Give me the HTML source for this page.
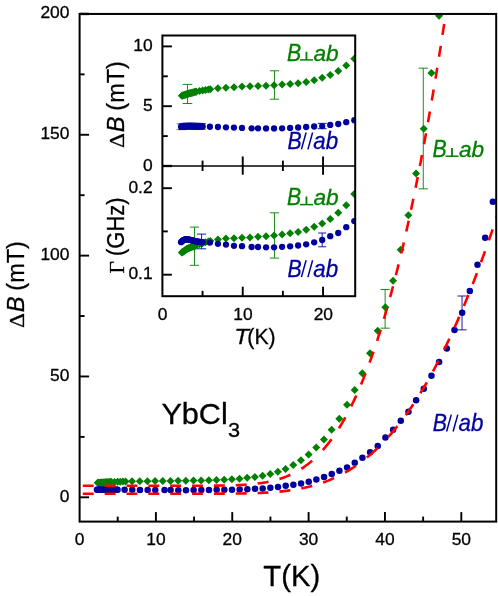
<!DOCTYPE html>
<html><head><meta charset="utf-8"><title>YbCl3 linewidth</title>
<style>html,body{margin:0;padding:0;background:#fff;}svg{display:block;will-change:transform;}text{stroke-width:0.3px;paint-order:stroke;}</style></head>
<body>
<svg width="498" height="596" viewBox="0 0 498 596" font-family="'Liberation Sans', sans-serif">
<rect width="498" height="596" fill="#fff"/>
<defs><clipPath id="cm"><rect x="79.6" y="13.95" width="416.6" height="507.65000000000003"/></clipPath><clipPath id="ct"><rect x="162.4" y="35.5" width="192.79999999999998" height="130.5"/></clipPath><clipPath id="cb"><rect x="162.4" y="166.0" width="192.79999999999998" height="130.2"/></clipPath></defs>
<g clip-path="url(#cm)">
<path d="M423.28 68.17V188.86M418.68 68.17H427.88M418.68 188.86H427.88" stroke="#008000" stroke-width="0.9" fill="none"/>
<path d="M385.13 289.47V328.16M380.53 289.47H389.73M380.53 328.16H389.73" stroke="#008000" stroke-width="0.9" fill="none"/>
<path d="M97.71 478.83L101.71 482.83L97.71 486.83L93.71 482.83Z" fill="#008000"/>
<path d="M98.48 478.78L102.48 482.78L98.48 486.78L94.48 482.78Z" fill="#008000"/>
<path d="M99.24 478.73L103.24 482.73L99.24 486.73L95.24 482.73Z" fill="#008000"/>
<path d="M100.00 478.68L104.00 482.68L100.00 486.68L96.00 482.68Z" fill="#008000"/>
<path d="M100.76 478.63L104.76 482.63L100.76 486.63L96.76 482.63Z" fill="#008000"/>
<path d="M101.53 478.58L105.53 482.58L101.53 486.58L97.53 482.58Z" fill="#008000"/>
<path d="M102.29 478.54L106.29 482.54L102.29 486.54L98.29 482.54Z" fill="#008000"/>
<path d="M103.05 478.49L107.05 482.49L103.05 486.49L99.05 482.49Z" fill="#008000"/>
<path d="M103.82 478.45L107.82 482.45L103.82 486.45L99.82 482.45Z" fill="#008000"/>
<path d="M104.58 478.41L108.58 482.41L104.58 486.41L100.58 482.41Z" fill="#008000"/>
<path d="M105.34 478.36L109.34 482.36L105.34 486.36L101.34 482.36Z" fill="#008000"/>
<path d="M106.11 478.32L110.11 482.32L106.11 486.32L102.11 482.32Z" fill="#008000"/>
<path d="M106.87 478.27L110.87 482.27L106.87 486.27L102.87 482.27Z" fill="#008000"/>
<path d="M107.63 478.23L111.63 482.23L107.63 486.23L103.63 482.23Z" fill="#008000"/>
<path d="M108.39 478.19L112.39 482.19L108.39 486.19L104.39 482.19Z" fill="#008000"/>
<path d="M109.16 478.14L113.16 482.14L109.16 486.14L105.16 482.14Z" fill="#008000"/>
<path d="M109.92 478.10L113.92 482.10L109.92 486.10L105.92 482.10Z" fill="#008000"/>
<path d="M110.68 478.07L114.68 482.07L110.68 486.07L106.68 482.07Z" fill="#008000"/>
<path d="M111.45 478.04L115.45 482.04L111.45 486.04L107.45 482.04Z" fill="#008000"/>
<path d="M114.50 477.91L118.50 481.91L114.50 485.91L110.50 481.91Z" fill="#008000"/>
<path d="M117.55 477.79L121.55 481.79L117.55 485.79L113.55 481.79Z" fill="#008000"/>
<path d="M120.22 477.70L124.22 481.70L120.22 485.70L116.22 481.70Z" fill="#008000"/>
<path d="M122.89 477.62L126.89 481.62L122.89 485.62L118.89 481.62Z" fill="#008000"/>
<path d="M125.56 477.54L129.56 481.54L125.56 485.54L121.56 481.54Z" fill="#008000"/>
<path d="M132.06 477.36L136.06 481.36L132.06 485.36L128.06 481.36Z" fill="#008000"/>
<path d="M139.74 477.25L143.74 481.25L139.74 485.25L135.74 481.25Z" fill="#008000"/>
<path d="M147.41 477.13L151.41 481.13L147.41 485.13L143.41 481.13Z" fill="#008000"/>
<path d="M155.09 477.01L159.09 481.01L155.09 485.01L151.09 481.01Z" fill="#008000"/>
<path d="M162.77 476.96L166.77 480.96L162.77 484.96L158.77 480.96Z" fill="#008000"/>
<path d="M170.44 476.92L174.44 480.92L170.44 484.92L166.44 480.92Z" fill="#008000"/>
<path d="M178.12 476.82L182.12 480.82L178.12 484.82L174.12 480.82Z" fill="#008000"/>
<path d="M185.79 476.72L189.79 480.72L185.79 484.72L181.79 480.72Z" fill="#008000"/>
<path d="M193.47 476.60L197.47 480.60L193.47 484.60L189.47 480.60Z" fill="#008000"/>
<path d="M201.14 476.48L205.14 480.48L201.14 484.48L197.14 480.48Z" fill="#008000"/>
<path d="M208.82 476.34L212.82 480.34L208.82 484.34L204.82 480.34Z" fill="#008000"/>
<path d="M216.50 476.09L220.50 480.09L216.50 484.09L212.50 480.09Z" fill="#008000"/>
<path d="M224.17 475.73L228.17 479.73L224.17 483.73L220.17 479.73Z" fill="#008000"/>
<path d="M231.85 475.22L235.85 479.22L231.85 483.22L227.85 479.22Z" fill="#008000"/>
<path d="M239.52 474.67L243.52 478.67L239.52 482.67L235.52 478.67Z" fill="#008000"/>
<path d="M247.20 473.87L251.20 477.87L247.20 481.87L243.20 477.87Z" fill="#008000"/>
<path d="M254.87 472.96L258.87 476.96L254.87 480.96L250.87 476.96Z" fill="#008000"/>
<path d="M262.55 471.81L266.55 475.81L262.55 479.81L258.55 475.81Z" fill="#008000"/>
<path d="M270.23 469.94L274.23 473.94L270.23 477.94L266.23 473.94Z" fill="#008000"/>
<path d="M277.90 467.82L281.90 471.82L277.90 475.82L273.90 471.82Z" fill="#008000"/>
<path d="M285.58 464.92L289.58 468.92L285.58 472.92L281.58 468.92Z" fill="#008000"/>
<path d="M293.25 461.05L297.25 465.05L293.25 469.05L289.25 465.05Z" fill="#008000"/>
<path d="M300.93 456.21L304.93 460.21L300.93 464.21L296.93 460.21Z" fill="#008000"/>
<path d="M308.61 450.41L312.61 454.41L308.61 458.41L304.61 454.41Z" fill="#008000"/>
<path d="M316.28 443.40L320.28 447.40L316.28 451.40L312.28 447.40Z" fill="#008000"/>
<path d="M323.96 435.41L327.96 439.41L323.96 443.41L319.96 439.41Z" fill="#008000"/>
<path d="M331.63 425.74L335.63 429.74L331.63 433.74L327.63 429.74Z" fill="#008000"/>
<path d="M339.31 414.74L343.31 418.74L339.31 422.74L335.31 418.74Z" fill="#008000"/>
<path d="M346.98 400.83L350.98 404.83L346.98 408.83L342.98 404.83Z" fill="#008000"/>
<path d="M354.66 386.08L358.66 390.08L354.66 394.08L350.66 390.08Z" fill="#008000"/>
<path d="M362.34 369.15L366.34 373.15L362.34 377.15L358.34 373.15Z" fill="#008000"/>
<path d="M370.01 349.32L374.01 353.32L370.01 357.32L366.01 353.32Z" fill="#008000"/>
<path d="M377.69 326.82L381.69 330.82L377.69 334.82L373.69 330.82Z" fill="#008000"/>
<path d="M385.36 303.36L389.36 307.36L385.36 311.36L381.36 307.36Z" fill="#008000"/>
<path d="M393.04 276.76L397.04 280.76L393.04 284.76L389.04 280.76Z" fill="#008000"/>
<path d="M400.71 245.80L404.71 249.80L400.71 253.80L396.71 249.80Z" fill="#008000"/>
<path d="M408.39 211.22L412.39 215.22L408.39 219.22L404.39 215.22Z" fill="#008000"/>
<path d="M416.07 169.62L420.07 173.62L416.07 177.62L412.07 173.62Z" fill="#008000"/>
<path d="M423.74 124.64L427.74 128.64L423.74 132.64L419.74 128.64Z" fill="#008000"/>
<path d="M431.42 69.01L435.42 73.01L431.42 77.01L427.42 73.01Z" fill="#008000"/>
<path d="M439.09 11.69L443.09 15.69L439.09 19.69L435.09 15.69Z" fill="#008000"/>
<path d="M462.04 296.00V329.86M457.44 296.00H466.64M457.44 329.86H466.64" stroke="#0000A0" stroke-width="0.9" fill="none"/>
<circle cx="96.95" cy="489.79" r="3.25" fill="#0000A0"/>
<circle cx="97.71" cy="489.77" r="3.25" fill="#0000A0"/>
<circle cx="98.48" cy="489.75" r="3.25" fill="#0000A0"/>
<circle cx="99.24" cy="489.73" r="3.25" fill="#0000A0"/>
<circle cx="100.00" cy="489.71" r="3.25" fill="#0000A0"/>
<circle cx="100.76" cy="489.69" r="3.25" fill="#0000A0"/>
<circle cx="101.53" cy="489.67" r="3.25" fill="#0000A0"/>
<circle cx="102.29" cy="489.65" r="3.25" fill="#0000A0"/>
<circle cx="103.05" cy="489.65" r="3.25" fill="#0000A0"/>
<circle cx="103.82" cy="489.65" r="3.25" fill="#0000A0"/>
<circle cx="104.58" cy="489.66" r="3.25" fill="#0000A0"/>
<circle cx="105.34" cy="489.66" r="3.25" fill="#0000A0"/>
<circle cx="106.11" cy="489.66" r="3.25" fill="#0000A0"/>
<circle cx="106.87" cy="489.67" r="3.25" fill="#0000A0"/>
<circle cx="107.63" cy="489.67" r="3.25" fill="#0000A0"/>
<circle cx="108.39" cy="489.68" r="3.25" fill="#0000A0"/>
<circle cx="109.16" cy="489.68" r="3.25" fill="#0000A0"/>
<circle cx="109.92" cy="489.68" r="3.25" fill="#0000A0"/>
<circle cx="110.68" cy="489.69" r="3.25" fill="#0000A0"/>
<circle cx="111.45" cy="489.69" r="3.25" fill="#0000A0"/>
<circle cx="112.21" cy="489.69" r="3.25" fill="#0000A0"/>
<circle cx="112.97" cy="489.70" r="3.25" fill="#0000A0"/>
<circle cx="113.74" cy="489.70" r="3.25" fill="#0000A0"/>
<circle cx="114.50" cy="489.70" r="3.25" fill="#0000A0"/>
<circle cx="115.26" cy="489.71" r="3.25" fill="#0000A0"/>
<circle cx="116.02" cy="489.71" r="3.25" fill="#0000A0"/>
<circle cx="116.79" cy="489.72" r="3.25" fill="#0000A0"/>
<circle cx="117.55" cy="489.72" r="3.25" fill="#0000A0"/>
<circle cx="124.59" cy="489.79" r="3.25" fill="#0000A0"/>
<circle cx="132.26" cy="489.84" r="3.25" fill="#0000A0"/>
<circle cx="139.94" cy="489.91" r="3.25" fill="#0000A0"/>
<circle cx="147.61" cy="489.96" r="3.25" fill="#0000A0"/>
<circle cx="155.28" cy="490.03" r="3.25" fill="#0000A0"/>
<circle cx="164.49" cy="490.11" r="3.25" fill="#0000A0"/>
<circle cx="170.62" cy="490.11" r="3.25" fill="#0000A0"/>
<circle cx="178.30" cy="490.13" r="3.25" fill="#0000A0"/>
<circle cx="185.97" cy="490.13" r="3.25" fill="#0000A0"/>
<circle cx="193.64" cy="490.11" r="3.25" fill="#0000A0"/>
<circle cx="201.31" cy="490.03" r="3.25" fill="#0000A0"/>
<circle cx="208.98" cy="489.94" r="3.25" fill="#0000A0"/>
<circle cx="216.66" cy="489.84" r="3.25" fill="#0000A0"/>
<circle cx="224.33" cy="489.74" r="3.25" fill="#0000A0"/>
<circle cx="232.00" cy="489.65" r="3.25" fill="#0000A0"/>
<circle cx="239.67" cy="489.43" r="3.25" fill="#0000A0"/>
<circle cx="247.34" cy="489.24" r="3.25" fill="#0000A0"/>
<circle cx="255.02" cy="488.87" r="3.25" fill="#0000A0"/>
<circle cx="262.69" cy="488.49" r="3.25" fill="#0000A0"/>
<circle cx="270.36" cy="487.78" r="3.25" fill="#0000A0"/>
<circle cx="278.03" cy="486.94" r="3.25" fill="#0000A0"/>
<circle cx="285.70" cy="485.85" r="3.25" fill="#0000A0"/>
<circle cx="293.38" cy="484.76" r="3.25" fill="#0000A0"/>
<circle cx="301.05" cy="483.43" r="3.25" fill="#0000A0"/>
<circle cx="308.72" cy="481.86" r="3.25" fill="#0000A0"/>
<circle cx="316.39" cy="479.56" r="3.25" fill="#0000A0"/>
<circle cx="324.06" cy="477.02" r="3.25" fill="#0000A0"/>
<circle cx="331.74" cy="474.12" r="3.25" fill="#0000A0"/>
<circle cx="339.41" cy="470.85" r="3.25" fill="#0000A0"/>
<circle cx="347.08" cy="467.47" r="3.25" fill="#0000A0"/>
<circle cx="354.75" cy="462.87" r="3.25" fill="#0000A0"/>
<circle cx="362.42" cy="457.79" r="3.25" fill="#0000A0"/>
<circle cx="370.10" cy="452.23" r="3.25" fill="#0000A0"/>
<circle cx="377.77" cy="445.94" r="3.25" fill="#0000A0"/>
<circle cx="385.44" cy="437.48" r="3.25" fill="#0000A0"/>
<circle cx="393.11" cy="429.74" r="3.25" fill="#0000A0"/>
<circle cx="400.78" cy="420.79" r="3.25" fill="#0000A0"/>
<circle cx="408.46" cy="411.84" r="3.25" fill="#0000A0"/>
<circle cx="416.13" cy="400.23" r="3.25" fill="#0000A0"/>
<circle cx="423.80" cy="388.63" r="3.25" fill="#0000A0"/>
<circle cx="431.47" cy="375.81" r="3.25" fill="#0000A0"/>
<circle cx="439.14" cy="362.02" r="3.25" fill="#0000A0"/>
<circle cx="446.82" cy="348.48" r="3.25" fill="#0000A0"/>
<circle cx="454.49" cy="330.10" r="3.25" fill="#0000A0"/>
<circle cx="462.16" cy="312.68" r="3.25" fill="#0000A0"/>
<circle cx="469.83" cy="290.92" r="3.25" fill="#0000A0"/>
<circle cx="477.50" cy="264.80" r="3.25" fill="#0000A0"/>
<circle cx="485.17" cy="237.71" r="3.25" fill="#0000A0"/>
<circle cx="492.85" cy="201.68" r="3.25" fill="#0000A0"/>
<path d="M82.80 485.70L84.98 485.70L87.16 485.70L89.34 485.70L91.52 485.70L93.70 485.70M104.65 485.70L106.83 485.70L109.01 485.70L111.19 485.70L113.37 485.70L115.55 485.70M126.50 485.70L128.68 485.70L130.86 485.70L133.04 485.70L135.22 485.70L137.40 485.70M148.35 485.70L150.53 485.70L152.71 485.70L154.89 485.70L157.07 485.70L159.25 485.70M170.20 485.70L172.38 485.70L174.56 485.70L176.74 485.70L178.92 485.70L181.10 485.70M192.05 485.70L194.23 485.70L196.41 485.70L198.59 485.69L200.77 485.69L202.95 485.68M213.90 485.63L216.08 485.62L218.26 485.60L220.44 485.57L222.62 485.54L224.80 485.50M235.75 485.21L237.93 485.12L240.11 485.02L242.29 484.91L244.47 484.78L246.65 484.63M257.60 483.57L259.78 483.28L261.96 482.96L264.14 482.60L266.32 482.22L268.50 481.79M279.45 478.98L281.63 478.26L283.81 477.49L285.99 476.66L288.17 475.76L290.35 474.80M301.30 468.81L303.48 467.36L305.66 465.82L307.84 464.19L310.02 462.46L312.20 460.62M322.84 450.06L324.73 447.88L326.55 445.70L328.29 443.52L329.97 441.34L331.59 439.16M338.98 428.21L340.33 426.03L341.64 423.85L342.92 421.67L344.17 419.49L345.38 417.31M351.12 406.36L352.19 404.18L353.24 402.00L354.28 399.82L355.29 397.64L356.29 395.46M361.06 384.51L361.96 382.33L362.86 380.15L363.74 377.97L364.60 375.79L365.46 373.61M369.59 362.66L370.38 360.48L371.16 358.30L371.94 356.12L372.70 353.94L373.45 351.76M377.13 340.81L377.83 338.63L378.53 336.45L379.23 334.27L379.92 332.09L380.60 329.91M383.92 318.96L384.56 316.78L385.20 314.60L385.83 312.42L386.46 310.24L387.08 308.06M390.13 297.11L390.73 294.93L391.32 292.75L391.90 290.57L392.48 288.39L393.05 286.21M395.88 275.26L396.43 273.08L396.98 270.90L397.53 268.72L398.07 266.54L398.60 264.36M401.25 253.41L401.76 251.23L402.28 249.05L402.79 246.87L403.29 244.69L403.80 242.51M406.29 231.56L406.77 229.38L407.26 227.20L407.74 225.02L408.22 222.84L408.70 220.66M411.05 209.71L411.51 207.53L411.97 205.35L412.43 203.17L412.88 200.99L413.34 198.81M415.58 187.86L416.02 185.68L416.45 183.50L416.89 181.32L417.32 179.14L417.75 176.96M419.89 166.01L420.31 163.83L420.73 161.65L421.15 159.47L421.56 157.29L421.97 155.11M424.02 144.16L424.42 141.98L424.82 139.80L425.22 137.62L425.62 135.44L426.02 133.26M427.98 122.31L428.37 120.13L428.76 117.95L429.14 115.77L429.52 113.59L429.91 111.41M431.80 100.46L432.17 98.28L432.55 96.10L432.92 93.92L433.29 91.74L433.65 89.56M435.48 78.61L435.84 76.43L436.20 74.25L436.56 72.07L436.92 69.89L437.27 67.71M439.04 56.76L439.39 54.58L439.74 52.40L440.09 50.22L440.43 48.04L440.78 45.86M442.49 34.91L442.83 32.73L443.17 30.55L443.50 28.37L443.84 26.19L444.17 24.01M445.84 13.06L446.17 10.88L446.49 8.70L446.82 6.52L447.15 4.34L447.47 2.16M449.09 -8.79L449.41 -10.97L449.73 -13.15L450.05 -15.33L450.36 -17.51L450.68 -19.69M452.26 -30.64L452.57 -32.82L452.88 -35.00L453.19 -37.18L453.50 -39.36L453.81 -41.54M455.34 -52.49L455.65 -54.67L455.95 -56.85L456.25 -59.03L456.55 -61.21L456.85 -63.39M458.35 -74.34L458.65 -76.52L458.94 -78.70L459.24 -80.88L459.53 -83.06L459.83 -85.24M461.29 -96.19L461.58 -98.37L461.87 -100.55L462.16 -102.73L462.44 -104.91L462.73 -107.09M464.16 -118.04L464.45 -120.22L464.73 -122.40L465.01 -124.58L465.29 -126.76L465.57 -128.94M466.98 -139.89L467.25 -142.07L467.53 -144.25L467.81 -146.43L468.08 -148.61L468.36 -150.79M469.73 -161.74L470.00 -163.92L470.27 -166.10L470.54 -168.28L470.81 -170.46L471.08 -172.64M472.43 -183.59L472.70 -185.77L472.96 -187.95L473.23 -190.13L473.49 -192.31L473.76 -194.49M475.08 -205.44L475.34 -207.62L475.60 -209.80L475.86 -211.98L476.12 -214.16L476.38 -216.34M477.68 -227.29L477.93 -229.47L478.19 -231.65L478.44 -233.83L478.70 -236.01L478.95 -238.19M480.23 -249.14L480.48 -251.32L480.73 -253.50L480.98 -255.68L481.23 -257.86L481.48 -260.04M482.74 -270.99L482.98 -273.17L483.23 -275.35L483.48 -277.53L483.72 -279.71L483.97 -281.89M485.20 -292.84L485.45 -295.02L485.69 -297.20L485.93 -299.38L486.17 -301.56L486.42 -303.74M487.63 -314.69L487.87 -316.87L488.11 -319.05L488.35 -321.23L488.59 -323.41L488.82 -325.59M490.02 -336.54L490.25 -338.72L490.49 -340.90L490.72 -343.08L490.96 -345.26L491.19 -347.44M492.37 -358.39L492.60 -360.57L492.83 -362.75L493.07 -364.93L493.30 -367.11L493.53 -369.29M494.69 -380.24L494.92 -382.42L495.15 -384.60L495.37 -386.78L495.60 -388.96L495.83 -391.14M496.97 -402.09L497.20 -404.27L497.42 -406.45L497.65 -408.63L497.87 -410.81L498.10 -412.99M499.22 -423.94L499.45 -426.12L499.67 -428.30L499.89 -430.48L500.11 -432.66L500.34 -434.84M501.45 -445.79L501.67 -447.97L501.89 -450.15L502.10 -452.33L502.32 -454.51L502.54 -456.69M503.64 -467.64L503.86 -469.82L504.07 -472.00L504.29 -474.18L504.51 -476.36L504.72 -478.54M505.80 -489.49L505.98 -491.27L506.15 -493.06L506.33 -494.85L506.50 -496.64L506.68 -498.42" fill="none" stroke="#FF0000" stroke-width="2.6"/>
<path d="M82.80 493.71L84.98 493.71L87.16 493.71L89.34 493.71L91.52 493.71L93.70 493.71M104.65 493.71L106.83 493.71L109.01 493.71L111.19 493.71L113.37 493.71L115.55 493.71M126.50 493.71L128.68 493.71L130.86 493.71L133.04 493.71L135.22 493.71L137.40 493.71M148.35 493.71L150.53 493.71L152.71 493.71L154.89 493.71L157.07 493.71L159.25 493.71M170.20 493.71L172.38 493.71L174.56 493.71L176.74 493.71L178.92 493.71L181.10 493.71M192.05 493.71L194.23 493.71L196.41 493.71L198.59 493.71L200.77 493.70L202.95 493.70M213.90 493.69L216.08 493.68L218.26 493.68L220.44 493.67L222.62 493.66L224.80 493.65M235.75 493.56L237.93 493.53L240.11 493.50L242.29 493.46L244.47 493.42L246.65 493.37M257.60 493.04L259.78 492.95L261.96 492.85L264.14 492.74L266.32 492.62L268.50 492.49M279.45 491.61L281.63 491.39L283.81 491.15L285.99 490.89L288.17 490.61L290.35 490.31M301.30 488.44L303.48 487.98L305.66 487.51L307.84 487.00L310.02 486.45L312.20 485.88M323.15 482.48L325.33 481.69L327.51 480.86L329.69 479.98L331.87 479.07L334.05 478.11M345.00 472.58L347.18 471.33L349.36 470.03L351.54 468.68L353.72 467.27L355.90 465.81M366.85 457.60L369.03 455.78L371.21 453.91L373.39 451.96L375.57 449.96L377.75 447.89M388.24 436.98L390.17 434.80L392.05 432.62L393.89 430.44L395.69 428.26L397.44 426.08M405.74 415.13L407.31 412.95L408.84 410.77L410.34 408.59L411.83 406.41L413.28 404.23M420.28 393.28L421.61 391.10L422.93 388.92L424.23 386.74L425.51 384.56L426.78 382.38M432.90 371.43L434.08 369.25L435.25 367.07L436.40 364.89L437.54 362.71L438.67 360.53M444.17 349.58L445.24 347.40L446.29 345.22L447.34 343.04L448.38 340.86L449.40 338.68M454.43 327.73L455.41 325.55L456.38 323.37L457.34 321.19L458.29 319.01L459.24 316.83M463.89 305.88L464.80 303.70L465.70 301.52L466.60 299.34L467.49 297.16L468.37 294.98M472.72 284.03L473.57 281.85L474.41 279.67L475.25 277.49L476.09 275.31L476.92 273.13M481.01 262.18L481.82 260.00L482.61 257.82L483.41 255.64L484.20 253.46L484.98 251.28M488.86 240.33L489.62 238.15L490.38 235.97L491.13 233.79L491.88 231.61L492.63 229.43M496.33 218.48L497.06 216.30L497.78 214.12L498.50 211.94L499.21 209.76L499.93 207.58M503.46 196.63L504.11 194.60L504.76 192.57L505.40 190.54L506.04 188.51L506.68 186.48" fill="none" stroke="#FF0000" stroke-width="2.6"/>
</g>
<rect x="79.6" y="13.95" width="416.60" height="507.65" fill="none" stroke="#000" stroke-width="2"/>
<line x1="117.72" y1="521.60" x2="117.72" y2="516.60" stroke="#000" stroke-width="1.9"/>
<line x1="155.90" y1="521.60" x2="155.90" y2="512.10" stroke="#000" stroke-width="1.9"/>
<line x1="194.07" y1="521.60" x2="194.07" y2="516.60" stroke="#000" stroke-width="1.9"/>
<line x1="232.25" y1="521.60" x2="232.25" y2="512.10" stroke="#000" stroke-width="1.9"/>
<line x1="270.43" y1="521.60" x2="270.43" y2="516.60" stroke="#000" stroke-width="1.9"/>
<line x1="308.60" y1="521.60" x2="308.60" y2="512.10" stroke="#000" stroke-width="1.9"/>
<line x1="346.77" y1="521.60" x2="346.77" y2="516.60" stroke="#000" stroke-width="1.9"/>
<line x1="384.95" y1="521.60" x2="384.95" y2="512.10" stroke="#000" stroke-width="1.9"/>
<line x1="423.12" y1="521.60" x2="423.12" y2="516.60" stroke="#000" stroke-width="1.9"/>
<line x1="461.30" y1="521.60" x2="461.30" y2="512.10" stroke="#000" stroke-width="1.9"/>
<text x="79.55" y="545.00" font-size="17.4" text-anchor="middle" fill="#000" stroke="#000">0</text>
<text x="155.90" y="545.00" font-size="17.4" text-anchor="middle" fill="#000" stroke="#000">10</text>
<text x="232.25" y="545.00" font-size="17.4" text-anchor="middle" fill="#000" stroke="#000">20</text>
<text x="308.60" y="545.00" font-size="17.4" text-anchor="middle" fill="#000" stroke="#000">30</text>
<text x="384.95" y="545.00" font-size="17.4" text-anchor="middle" fill="#000" stroke="#000">40</text>
<text x="461.30" y="545.00" font-size="17.4" text-anchor="middle" fill="#000" stroke="#000">50</text>
<line x1="79.60" y1="497.30" x2="89.10" y2="497.30" stroke="#000" stroke-width="1.9"/>
<line x1="79.60" y1="436.88" x2="84.60" y2="436.88" stroke="#000" stroke-width="1.9"/>
<line x1="79.60" y1="376.46" x2="89.10" y2="376.46" stroke="#000" stroke-width="1.9"/>
<line x1="79.60" y1="316.04" x2="84.60" y2="316.04" stroke="#000" stroke-width="1.9"/>
<line x1="79.60" y1="255.62" x2="89.10" y2="255.62" stroke="#000" stroke-width="1.9"/>
<line x1="79.60" y1="195.20" x2="84.60" y2="195.20" stroke="#000" stroke-width="1.9"/>
<line x1="79.60" y1="134.78" x2="89.10" y2="134.78" stroke="#000" stroke-width="1.9"/>
<line x1="79.60" y1="74.36" x2="84.60" y2="74.36" stroke="#000" stroke-width="1.9"/>
<line x1="79.60" y1="13.94" x2="89.10" y2="13.94" stroke="#000" stroke-width="2.4"/>
<text x="69.40" y="501.80" font-size="17.4" text-anchor="end" fill="#000" stroke="#000">0</text>
<text x="69.40" y="380.96" font-size="17.4" text-anchor="end" fill="#000" stroke="#000">50</text>
<text x="69.40" y="260.12" font-size="17.4" text-anchor="end" fill="#000" stroke="#000">100</text>
<text x="69.40" y="139.28" font-size="17.4" text-anchor="end" fill="#000" stroke="#000">150</text>
<text x="69.40" y="18.44" font-size="17.4" text-anchor="end" fill="#000" stroke="#000">200</text>
<text transform="translate(263.33 586.30) scale(1.0226 1)" font-size="28.6" fill="#000" stroke="#000" >T(K)</text>
<g transform="translate(23.9 327.1) rotate(-90)"><text transform="translate(-0.84 0.00) scale(1.1234 1)" font-size="20.6" fill="#000" stroke="#000" font-family="'Liberation Serif', serif">Δ</text><text transform="translate(14.87 0.00) scale(0.9695 1)" font-size="24.5" fill="#000" stroke="#000" font-style="italic">B</text><text transform="translate(36.47 0.00) scale(0.9549 1)" font-size="24.5" fill="#000" stroke="#000" >(mT)</text></g>
<text transform="translate(161.41 424.40) scale(1.0556 1)" font-size="29" fill="#000" stroke="#000" >YbCl</text>
<text transform="translate(227.89 436.80) scale(1.0526 1)" font-size="20.6" fill="#000" stroke="#000" >3</text>
<g transform="translate(433.2 156.8)"><text transform="translate(-0.72 0.00) scale(0.9240 1)" font-size="23" fill="#008000" stroke="#008000" font-style="italic">B</text><path d="M12.3 -0.6H25.3" stroke="#008000" stroke-width="1.5" fill="none"/><path d="M18.75 -0.6V-8.7" stroke="#008000" stroke-width="1.8" fill="none"/><text transform="translate(25.68 0.00) scale(0.9874 1)" font-size="23" fill="#008000" stroke="#008000" font-style="italic">ab</text></g>
<g transform="translate(433.4 431.0)"><text transform="translate(-0.72 0.00) scale(0.9240 1)" font-size="23" fill="#0000A0" stroke="#0000A0" font-style="italic">B</text><path d="M13.2 0.5L17.9 -16.4M19.7 0.5L24.4 -16.4" stroke="#0000A0" stroke-width="1.5" fill="none"/><text transform="translate(25.09 0.00) scale(0.9709 1)" font-size="23" fill="#0000A0" stroke="#0000A0" font-style="italic">ab</text></g>
<rect x="162.4" y="35.5" width="192.80" height="260.70" fill="#fff"/>
<g clip-path="url(#ct)">
<path d="M187.46 84.40V103.50M182.66 84.40H192.26M182.66 103.50H192.26" stroke="#008000" stroke-width="0.9" fill="none"/>
<path d="M274.48 70.80V99.20M269.88 70.80H279.08M269.88 99.20H279.08" stroke="#008000" stroke-width="0.9" fill="none"/>
<path d="M181.85 91.65L185.85 95.65L181.85 99.65L177.85 95.65Z" fill="#008000"/>
<path d="M182.65 91.41L186.65 95.41L182.65 99.41L178.65 95.41Z" fill="#008000"/>
<path d="M183.45 91.17L187.45 95.17L183.45 99.17L179.45 95.17Z" fill="#008000"/>
<path d="M184.25 90.93L188.25 94.93L184.25 98.93L180.25 94.93Z" fill="#008000"/>
<path d="M185.06 90.68L189.06 94.68L185.06 98.68L181.06 94.68Z" fill="#008000"/>
<path d="M185.86 90.44L189.86 94.44L185.86 98.44L181.86 94.44Z" fill="#008000"/>
<path d="M186.66 90.20L190.66 94.20L186.66 98.20L182.66 94.20Z" fill="#008000"/>
<path d="M187.46 89.98L191.46 93.98L187.46 97.98L183.46 93.98Z" fill="#008000"/>
<path d="M188.26 89.77L192.26 93.77L188.26 97.77L184.26 93.77Z" fill="#008000"/>
<path d="M189.07 89.55L193.07 93.55L189.07 97.55L185.07 93.55Z" fill="#008000"/>
<path d="M189.87 89.33L193.87 93.33L189.87 97.33L185.87 93.33Z" fill="#008000"/>
<path d="M190.67 89.12L194.67 93.12L190.67 97.12L186.67 93.12Z" fill="#008000"/>
<path d="M191.47 88.90L195.47 92.90L191.47 96.90L187.47 92.90Z" fill="#008000"/>
<path d="M192.27 88.68L196.27 92.68L192.27 96.68L188.27 92.68Z" fill="#008000"/>
<path d="M193.08 88.47L197.08 92.47L193.08 96.47L189.08 92.47Z" fill="#008000"/>
<path d="M193.88 88.25L197.88 92.25L193.88 96.25L189.88 92.25Z" fill="#008000"/>
<path d="M194.68 88.03L198.68 92.03L194.68 96.03L190.68 92.03Z" fill="#008000"/>
<path d="M195.48 87.87L199.48 91.87L195.48 95.87L191.48 91.87Z" fill="#008000"/>
<path d="M196.28 87.72L200.28 91.72L196.28 95.72L192.28 91.72Z" fill="#008000"/>
<path d="M199.49 87.09L203.49 91.09L199.49 95.09L195.49 91.09Z" fill="#008000"/>
<path d="M202.70 86.46L206.70 90.46L202.70 94.46L198.70 90.46Z" fill="#008000"/>
<path d="M205.51 86.04L209.51 90.04L205.51 94.04L201.51 90.04Z" fill="#008000"/>
<path d="M208.31 85.62L212.31 89.62L208.31 93.62L204.31 89.62Z" fill="#008000"/>
<path d="M210.32 85.25L214.32 89.25L210.32 93.25L206.32 89.25Z" fill="#008000"/>
<path d="M217.94 84.36L221.94 88.36L217.94 92.36L213.94 88.36Z" fill="#008000"/>
<path d="M225.96 83.81L229.96 87.81L225.96 91.81L221.96 87.81Z" fill="#008000"/>
<path d="M233.98 83.21L237.98 87.21L233.98 91.21L229.98 87.21Z" fill="#008000"/>
<path d="M242.00 82.60L246.00 86.60L242.00 90.60L238.00 86.60Z" fill="#008000"/>
<path d="M250.02 82.36L254.02 86.36L250.02 90.36L246.02 86.36Z" fill="#008000"/>
<path d="M258.04 82.12L262.04 86.12L258.04 90.12L254.04 86.12Z" fill="#008000"/>
<path d="M266.06 81.64L270.06 85.64L266.06 89.64L262.06 85.64Z" fill="#008000"/>
<path d="M274.08 81.16L278.08 85.16L274.08 89.16L270.08 85.16Z" fill="#008000"/>
<path d="M282.10 80.55L286.10 84.55L282.10 88.55L278.10 84.55Z" fill="#008000"/>
<path d="M290.12 79.95L294.12 83.95L290.12 87.95L286.12 83.95Z" fill="#008000"/>
<path d="M298.14 79.23L302.14 83.23L298.14 87.23L294.14 83.23Z" fill="#008000"/>
<path d="M306.16 78.02L310.16 82.02L306.16 86.02L302.16 82.02Z" fill="#008000"/>
<path d="M314.18 76.21L318.18 80.21L314.18 84.21L310.18 80.21Z" fill="#008000"/>
<path d="M322.20 73.68L326.20 77.68L322.20 81.68L318.20 77.68Z" fill="#008000"/>
<path d="M330.22 70.91L334.22 74.91L330.22 78.91L326.22 74.91Z" fill="#008000"/>
<path d="M338.24 66.93L342.24 70.93L338.24 74.93L334.24 70.93Z" fill="#008000"/>
<path d="M346.26 61.50L350.26 65.50L346.26 69.50L342.26 65.50Z" fill="#008000"/>
<path d="M354.28 54.87L358.28 58.87L354.28 62.87L350.28 58.87Z" fill="#008000"/>
<path d="M181.05 123.87V129.66M176.65 123.87H185.45M176.65 129.66H185.45" stroke="#0000A0" stroke-width="0.55" fill="none"/>
<path d="M182.65 123.66V129.45M178.25 123.66H187.05M178.25 129.45H187.05" stroke="#0000A0" stroke-width="0.55" fill="none"/>
<path d="M184.25 123.46V129.24M179.85 123.46H188.65M179.85 129.24H188.65" stroke="#0000A0" stroke-width="0.55" fill="none"/>
<path d="M185.86 123.25V129.04M181.46 123.25H190.26M181.46 129.04H190.26" stroke="#0000A0" stroke-width="0.55" fill="none"/>
<path d="M187.46 123.16V128.95M183.06 123.16H191.86M183.06 128.95H191.86" stroke="#0000A0" stroke-width="0.55" fill="none"/>
<path d="M189.07 123.20V128.99M184.67 123.20H193.47M184.67 128.99H193.47" stroke="#0000A0" stroke-width="0.55" fill="none"/>
<path d="M190.67 123.24V129.03M186.27 123.24H195.07M186.27 129.03H195.07" stroke="#0000A0" stroke-width="0.55" fill="none"/>
<path d="M192.27 123.27V129.06M187.87 123.27H196.67M187.87 129.06H196.67" stroke="#0000A0" stroke-width="0.55" fill="none"/>
<path d="M193.88 123.31V129.10M189.48 123.31H198.28M189.48 129.10H198.28" stroke="#0000A0" stroke-width="0.55" fill="none"/>
<path d="M195.48 123.34V129.13M191.08 123.34H199.88M191.08 129.13H199.88" stroke="#0000A0" stroke-width="0.55" fill="none"/>
<path d="M197.09 123.38V129.17M192.69 123.38H201.49M192.69 129.17H201.49" stroke="#0000A0" stroke-width="0.55" fill="none"/>
<path d="M198.69 123.42V129.21M194.29 123.42H203.09M194.29 129.21H203.09" stroke="#0000A0" stroke-width="0.55" fill="none"/>
<path d="M200.29 123.45V129.24M195.89 123.45H204.69M195.89 129.24H204.69" stroke="#0000A0" stroke-width="0.55" fill="none"/>
<path d="M201.90 123.49V129.28M197.50 123.49H206.30M197.50 129.28H206.30" stroke="#0000A0" stroke-width="0.55" fill="none"/>
<circle cx="181.05" cy="126.76" r="3.15" fill="#0000A0"/>
<circle cx="181.85" cy="126.66" r="3.15" fill="#0000A0"/>
<circle cx="182.65" cy="126.56" r="3.15" fill="#0000A0"/>
<circle cx="183.45" cy="126.45" r="3.15" fill="#0000A0"/>
<circle cx="184.25" cy="126.35" r="3.15" fill="#0000A0"/>
<circle cx="185.06" cy="126.25" r="3.15" fill="#0000A0"/>
<circle cx="185.86" cy="126.14" r="3.15" fill="#0000A0"/>
<circle cx="186.66" cy="126.04" r="3.15" fill="#0000A0"/>
<circle cx="187.46" cy="126.06" r="3.15" fill="#0000A0"/>
<circle cx="188.26" cy="126.08" r="3.15" fill="#0000A0"/>
<circle cx="189.07" cy="126.09" r="3.15" fill="#0000A0"/>
<circle cx="189.87" cy="126.11" r="3.15" fill="#0000A0"/>
<circle cx="190.67" cy="126.13" r="3.15" fill="#0000A0"/>
<circle cx="191.47" cy="126.15" r="3.15" fill="#0000A0"/>
<circle cx="192.27" cy="126.17" r="3.15" fill="#0000A0"/>
<circle cx="193.08" cy="126.18" r="3.15" fill="#0000A0"/>
<circle cx="193.88" cy="126.20" r="3.15" fill="#0000A0"/>
<circle cx="194.68" cy="126.22" r="3.15" fill="#0000A0"/>
<circle cx="195.48" cy="126.24" r="3.15" fill="#0000A0"/>
<circle cx="196.28" cy="126.26" r="3.15" fill="#0000A0"/>
<circle cx="197.09" cy="126.28" r="3.15" fill="#0000A0"/>
<circle cx="197.89" cy="126.29" r="3.15" fill="#0000A0"/>
<circle cx="198.69" cy="126.31" r="3.15" fill="#0000A0"/>
<circle cx="199.49" cy="126.33" r="3.15" fill="#0000A0"/>
<circle cx="200.29" cy="126.35" r="3.15" fill="#0000A0"/>
<circle cx="201.10" cy="126.37" r="3.15" fill="#0000A0"/>
<circle cx="201.90" cy="126.38" r="3.15" fill="#0000A0"/>
<circle cx="202.70" cy="126.40" r="3.15" fill="#0000A0"/>
<circle cx="209.92" cy="126.76" r="3.15" fill="#0000A0"/>
<circle cx="217.94" cy="127.00" r="3.15" fill="#0000A0"/>
<circle cx="225.96" cy="127.37" r="3.15" fill="#0000A0"/>
<circle cx="233.98" cy="127.61" r="3.15" fill="#0000A0"/>
<circle cx="242.00" cy="127.97" r="3.15" fill="#0000A0"/>
<circle cx="251.62" cy="128.33" r="3.15" fill="#0000A0"/>
<circle cx="258.04" cy="128.33" r="3.15" fill="#0000A0"/>
<circle cx="266.06" cy="128.45" r="3.15" fill="#0000A0"/>
<circle cx="274.08" cy="128.45" r="3.15" fill="#0000A0"/>
<circle cx="282.10" cy="128.33" r="3.15" fill="#0000A0"/>
<circle cx="290.12" cy="127.97" r="3.15" fill="#0000A0"/>
<circle cx="298.14" cy="127.49" r="3.15" fill="#0000A0"/>
<circle cx="306.16" cy="127.00" r="3.15" fill="#0000A0"/>
<circle cx="314.18" cy="126.52" r="3.15" fill="#0000A0"/>
<circle cx="322.20" cy="126.04" r="3.15" fill="#0000A0"/>
<circle cx="330.22" cy="124.95" r="3.15" fill="#0000A0"/>
<circle cx="338.24" cy="123.99" r="3.15" fill="#0000A0"/>
<circle cx="346.26" cy="122.18" r="3.15" fill="#0000A0"/>
<circle cx="354.28" cy="120.25" r="3.15" fill="#0000A0"/>
<path d="M322.20 123.39V128.69M317.70 123.39H326.70M317.70 128.69H326.70" stroke="#0000A0" stroke-width="0.9" fill="none"/>
</g>
<g clip-path="url(#cb)">
<path d="M194.52 227.10V265.30M189.92 227.10H199.12M189.92 265.30H199.12" stroke="#008000" stroke-width="0.9" fill="none"/>
<path d="M274.48 212.80V258.10M269.88 212.80H279.08M269.88 258.10H279.08" stroke="#008000" stroke-width="0.9" fill="none"/>
<path d="M181.85 248.60L185.85 252.60L181.85 256.60L177.85 252.60Z" fill="#008000"/>
<path d="M182.65 248.10L186.65 252.10L182.65 256.10L178.65 252.10Z" fill="#008000"/>
<path d="M183.45 247.60L187.45 251.60L183.45 255.60L179.45 251.60Z" fill="#008000"/>
<path d="M184.25 246.95L188.25 250.95L184.25 254.95L180.25 250.95Z" fill="#008000"/>
<path d="M185.06 246.30L189.06 250.30L185.06 254.30L181.06 250.30Z" fill="#008000"/>
<path d="M185.86 245.65L189.86 249.65L185.86 253.65L181.86 249.65Z" fill="#008000"/>
<path d="M186.66 245.00L190.66 249.00L186.66 253.00L182.66 249.00Z" fill="#008000"/>
<path d="M187.46 244.66L191.46 248.66L187.46 252.66L183.46 248.66Z" fill="#008000"/>
<path d="M188.26 244.32L192.26 248.32L188.26 252.32L184.26 248.32Z" fill="#008000"/>
<path d="M189.07 243.98L193.07 247.98L189.07 251.98L185.07 247.98Z" fill="#008000"/>
<path d="M189.87 243.64L193.87 247.64L189.87 251.64L185.87 247.64Z" fill="#008000"/>
<path d="M190.67 243.30L194.67 247.30L190.67 251.30L186.67 247.30Z" fill="#008000"/>
<path d="M191.47 243.04L195.47 247.04L191.47 251.04L187.47 247.04Z" fill="#008000"/>
<path d="M192.27 242.78L196.27 246.78L192.27 250.78L188.27 246.78Z" fill="#008000"/>
<path d="M193.08 242.52L197.08 246.52L193.08 250.52L189.08 246.52Z" fill="#008000"/>
<path d="M193.88 242.26L197.88 246.26L193.88 250.26L189.88 246.26Z" fill="#008000"/>
<path d="M194.68 242.00L198.68 246.00L194.68 250.00L190.68 246.00Z" fill="#008000"/>
<path d="M195.48 241.70L199.48 245.70L195.48 249.70L191.48 245.70Z" fill="#008000"/>
<path d="M196.28 241.40L200.28 245.40L196.28 249.40L192.28 245.40Z" fill="#008000"/>
<path d="M199.49 240.24L203.49 244.24L199.49 248.24L195.49 244.24Z" fill="#008000"/>
<path d="M202.70 239.20L206.70 243.20L202.70 247.20L198.70 243.20Z" fill="#008000"/>
<path d="M205.51 238.36L209.51 242.36L205.51 246.36L201.51 242.36Z" fill="#008000"/>
<path d="M208.31 237.60L212.31 241.60L208.31 245.60L204.31 241.60Z" fill="#008000"/>
<path d="M210.32 236.93L214.32 240.93L210.32 244.93L206.32 240.93Z" fill="#008000"/>
<path d="M217.94 235.60L221.94 239.60L217.94 243.60L213.94 239.60Z" fill="#008000"/>
<path d="M225.96 234.60L229.96 238.60L225.96 242.60L221.96 238.60Z" fill="#008000"/>
<path d="M233.98 234.20L237.98 238.20L233.98 242.20L229.98 238.20Z" fill="#008000"/>
<path d="M242.00 233.80L246.00 237.80L242.00 241.80L238.00 237.80Z" fill="#008000"/>
<path d="M250.02 233.50L254.02 237.50L250.02 241.50L246.02 237.50Z" fill="#008000"/>
<path d="M258.04 232.70L262.04 236.70L258.04 240.70L254.04 236.70Z" fill="#008000"/>
<path d="M266.06 232.20L270.06 236.20L266.06 240.20L262.06 236.20Z" fill="#008000"/>
<path d="M274.08 231.50L278.08 235.50L274.08 239.50L270.08 235.50Z" fill="#008000"/>
<path d="M282.10 230.50L286.10 234.50L282.10 238.50L278.10 234.50Z" fill="#008000"/>
<path d="M290.12 229.20L294.12 233.20L290.12 237.20L286.12 233.20Z" fill="#008000"/>
<path d="M298.14 227.90L302.14 231.90L298.14 235.90L294.14 231.90Z" fill="#008000"/>
<path d="M306.16 225.70L310.16 229.70L306.16 233.70L302.16 229.70Z" fill="#008000"/>
<path d="M314.18 222.70L318.18 226.70L314.18 230.70L310.18 226.70Z" fill="#008000"/>
<path d="M322.20 219.40L326.20 223.40L322.20 227.40L318.20 223.40Z" fill="#008000"/>
<path d="M330.22 215.10L334.22 219.10L330.22 223.10L326.22 219.10Z" fill="#008000"/>
<path d="M338.24 208.80L342.24 212.80L338.24 216.80L334.24 212.80Z" fill="#008000"/>
<path d="M346.26 201.30L350.26 205.30L346.26 209.30L342.26 205.30Z" fill="#008000"/>
<path d="M354.28 190.00L358.28 194.00L354.28 198.00L350.28 194.00Z" fill="#008000"/>
<path d="M201.58 234.10V248.80M196.98 234.10H206.18M196.98 248.80H206.18" stroke="#0000A0" stroke-width="0.9" fill="none"/>
<path d="M322.20 233.00V246.80M318.20 233.00H326.20M318.20 246.80H326.20" stroke="#0000A0" stroke-width="0.9" fill="none"/>
<circle cx="181.05" cy="242.20" r="3.15" fill="#0000A0"/>
<circle cx="181.85" cy="241.40" r="3.15" fill="#0000A0"/>
<circle cx="182.65" cy="240.60" r="3.15" fill="#0000A0"/>
<circle cx="183.45" cy="240.20" r="3.15" fill="#0000A0"/>
<circle cx="184.25" cy="239.80" r="3.15" fill="#0000A0"/>
<circle cx="185.06" cy="239.40" r="3.15" fill="#0000A0"/>
<circle cx="185.86" cy="239.24" r="3.15" fill="#0000A0"/>
<circle cx="186.66" cy="239.31" r="3.15" fill="#0000A0"/>
<circle cx="187.46" cy="239.39" r="3.15" fill="#0000A0"/>
<circle cx="188.26" cy="239.46" r="3.15" fill="#0000A0"/>
<circle cx="189.07" cy="239.60" r="3.15" fill="#0000A0"/>
<circle cx="189.87" cy="239.80" r="3.15" fill="#0000A0"/>
<circle cx="190.67" cy="240.00" r="3.15" fill="#0000A0"/>
<circle cx="191.47" cy="240.20" r="3.15" fill="#0000A0"/>
<circle cx="192.27" cy="240.40" r="3.15" fill="#0000A0"/>
<circle cx="193.08" cy="240.60" r="3.15" fill="#0000A0"/>
<circle cx="193.88" cy="240.80" r="3.15" fill="#0000A0"/>
<circle cx="194.68" cy="241.00" r="3.15" fill="#0000A0"/>
<circle cx="195.48" cy="241.16" r="3.15" fill="#0000A0"/>
<circle cx="196.28" cy="241.32" r="3.15" fill="#0000A0"/>
<circle cx="197.09" cy="241.48" r="3.15" fill="#0000A0"/>
<circle cx="197.89" cy="241.64" r="3.15" fill="#0000A0"/>
<circle cx="198.69" cy="241.80" r="3.15" fill="#0000A0"/>
<circle cx="199.49" cy="241.88" r="3.15" fill="#0000A0"/>
<circle cx="200.29" cy="241.96" r="3.15" fill="#0000A0"/>
<circle cx="201.10" cy="242.04" r="3.15" fill="#0000A0"/>
<circle cx="201.90" cy="242.12" r="3.15" fill="#0000A0"/>
<circle cx="202.70" cy="242.20" r="3.15" fill="#0000A0"/>
<circle cx="209.92" cy="242.60" r="3.15" fill="#0000A0"/>
<circle cx="217.94" cy="243.80" r="3.15" fill="#0000A0"/>
<circle cx="225.96" cy="244.60" r="3.15" fill="#0000A0"/>
<circle cx="233.98" cy="245.80" r="3.15" fill="#0000A0"/>
<circle cx="242.00" cy="246.20" r="3.15" fill="#0000A0"/>
<circle cx="251.62" cy="247.00" r="3.15" fill="#0000A0"/>
<circle cx="258.04" cy="247.00" r="3.15" fill="#0000A0"/>
<circle cx="266.06" cy="247.30" r="3.15" fill="#0000A0"/>
<circle cx="274.08" cy="247.30" r="3.15" fill="#0000A0"/>
<circle cx="282.10" cy="246.80" r="3.15" fill="#0000A0"/>
<circle cx="290.12" cy="246.30" r="3.15" fill="#0000A0"/>
<circle cx="298.14" cy="245.50" r="3.15" fill="#0000A0"/>
<circle cx="306.16" cy="244.30" r="3.15" fill="#0000A0"/>
<circle cx="314.18" cy="242.30" r="3.15" fill="#0000A0"/>
<circle cx="322.20" cy="240.00" r="3.15" fill="#0000A0"/>
<circle cx="330.22" cy="236.20" r="3.15" fill="#0000A0"/>
<circle cx="338.24" cy="233.00" r="3.15" fill="#0000A0"/>
<circle cx="346.26" cy="227.20" r="3.15" fill="#0000A0"/>
<circle cx="354.28" cy="221.10" r="3.15" fill="#0000A0"/>
</g>
<rect x="162.4" y="35.5" width="192.80" height="260.70" fill="none" stroke="#000" stroke-width="2"/>
<line x1="162.40" y1="166.00" x2="355.20" y2="166.00" stroke="#000" stroke-width="1.6"/>
<line x1="202.56" y1="160.60" x2="202.56" y2="170.97" stroke="#000" stroke-width="1.9"/>
<line x1="202.56" y1="296.20" x2="202.56" y2="290.80" stroke="#000" stroke-width="1.9"/>
<line x1="242.73" y1="156.50" x2="242.73" y2="174.74" stroke="#000" stroke-width="1.9"/>
<line x1="242.73" y1="296.20" x2="242.73" y2="286.70" stroke="#000" stroke-width="1.9"/>
<line x1="282.89" y1="160.60" x2="282.89" y2="170.97" stroke="#000" stroke-width="1.9"/>
<line x1="282.89" y1="296.20" x2="282.89" y2="290.80" stroke="#000" stroke-width="1.9"/>
<line x1="323.05" y1="156.50" x2="323.05" y2="174.74" stroke="#000" stroke-width="1.9"/>
<line x1="323.05" y1="296.20" x2="323.05" y2="286.70" stroke="#000" stroke-width="1.9"/>
<line x1="162.40" y1="46.40" x2="171.90" y2="46.40" stroke="#000" stroke-width="1.9"/>
<line x1="162.40" y1="76.30" x2="167.80" y2="76.30" stroke="#000" stroke-width="1.9"/>
<line x1="162.40" y1="106.20" x2="171.90" y2="106.20" stroke="#000" stroke-width="1.9"/>
<line x1="162.40" y1="136.10" x2="167.80" y2="136.10" stroke="#000" stroke-width="1.9"/>
<line x1="162.40" y1="166.00" x2="171.90" y2="166.00" stroke="#000" stroke-width="2.3"/>
<text x="152.60" y="51.10" font-size="17.4" text-anchor="end" fill="#000" stroke="#000">10</text>
<text x="152.60" y="110.90" font-size="17.4" text-anchor="end" fill="#000" stroke="#000">5</text>
<text x="152.60" y="170.70" font-size="17.4" text-anchor="end" fill="#000" stroke="#000">0</text>
<line x1="162.40" y1="188.20" x2="171.90" y2="188.20" stroke="#000" stroke-width="1.9"/>
<line x1="162.40" y1="231.40" x2="167.80" y2="231.40" stroke="#000" stroke-width="1.9"/>
<line x1="162.40" y1="274.70" x2="171.90" y2="274.70" stroke="#000" stroke-width="1.9"/>
<text x="152.60" y="192.80" font-size="17.4" text-anchor="end" fill="#000" stroke="#000">0.2</text>
<text x="152.60" y="279.30" font-size="17.4" text-anchor="end" fill="#000" stroke="#000">0.1</text>
<text x="162.70" y="320.00" font-size="17.4" text-anchor="middle" fill="#000" stroke="#000">0</text>
<text x="243.03" y="320.00" font-size="17.4" text-anchor="middle" fill="#000" stroke="#000">10</text>
<text x="323.35" y="320.00" font-size="17.4" text-anchor="middle" fill="#000" stroke="#000">20</text>
<text transform="translate(234.22 343.60) scale(1.0898 1)" font-size="22" fill="#000" stroke="#000" font-style="italic">T</text>
<text transform="translate(247.34 343.60) scale(0.9658 1)" font-size="22" fill="#000" stroke="#000" >(K)</text>
<g transform="translate(123.9 147.1) rotate(-90)"><text transform="translate(-0.84 0.00) scale(1.1234 1)" font-size="20.6" fill="#000" stroke="#000" font-family="'Liberation Serif', serif">Δ</text><text transform="translate(14.87 0.00) scale(0.9695 1)" font-size="24.5" fill="#000" stroke="#000" font-style="italic">B</text><text transform="translate(36.47 0.00) scale(0.9549 1)" font-size="24.5" fill="#000" stroke="#000" >(mT)</text></g>
<g transform="translate(123.9 272.9) rotate(-90)"><text transform="translate(-0.52 0.00) scale(1.0419 1)" font-size="20.6" fill="#000" stroke="#000" font-family="'Liberation Serif', serif">Γ</text><text transform="translate(16.96 0.00) scale(0.8964 1)" font-size="24.5" fill="#000" stroke="#000" >(GHz)</text></g>
<g transform="translate(287.7 60.5)"><text transform="translate(-0.72 0.00) scale(0.9240 1)" font-size="23" fill="#008000" stroke="#008000" font-style="italic">B</text><path d="M12.3 -0.6H25.3" stroke="#008000" stroke-width="1.5" fill="none"/><path d="M18.75 -0.6V-8.7" stroke="#008000" stroke-width="1.8" fill="none"/><text transform="translate(25.68 0.00) scale(0.9874 1)" font-size="23" fill="#008000" stroke="#008000" font-style="italic">ab</text></g>
<g transform="translate(288.2 148.9)"><text transform="translate(-0.72 0.00) scale(0.9240 1)" font-size="23" fill="#0000A0" stroke="#0000A0" font-style="italic">B</text><path d="M13.2 0.5L17.9 -16.4M19.7 0.5L24.4 -16.4" stroke="#0000A0" stroke-width="1.5" fill="none"/><text transform="translate(25.09 0.00) scale(0.9709 1)" font-size="23" fill="#0000A0" stroke="#0000A0" font-style="italic">ab</text></g>
<g transform="translate(287.7 205.2)"><text transform="translate(-0.72 0.00) scale(0.9240 1)" font-size="23" fill="#008000" stroke="#008000" font-style="italic">B</text><path d="M12.3 -0.6H25.3" stroke="#008000" stroke-width="1.5" fill="none"/><path d="M18.75 -0.6V-8.7" stroke="#008000" stroke-width="1.8" fill="none"/><text transform="translate(25.68 0.00) scale(0.9874 1)" font-size="23" fill="#008000" stroke="#008000" font-style="italic">ab</text></g>
<g transform="translate(288.2 276.6)"><text transform="translate(-0.72 0.00) scale(0.9240 1)" font-size="23" fill="#0000A0" stroke="#0000A0" font-style="italic">B</text><path d="M13.2 0.5L17.9 -16.4M19.7 0.5L24.4 -16.4" stroke="#0000A0" stroke-width="1.5" fill="none"/><text transform="translate(25.09 0.00) scale(0.9709 1)" font-size="23" fill="#0000A0" stroke="#0000A0" font-style="italic">ab</text></g>
</svg>
</body></html>
